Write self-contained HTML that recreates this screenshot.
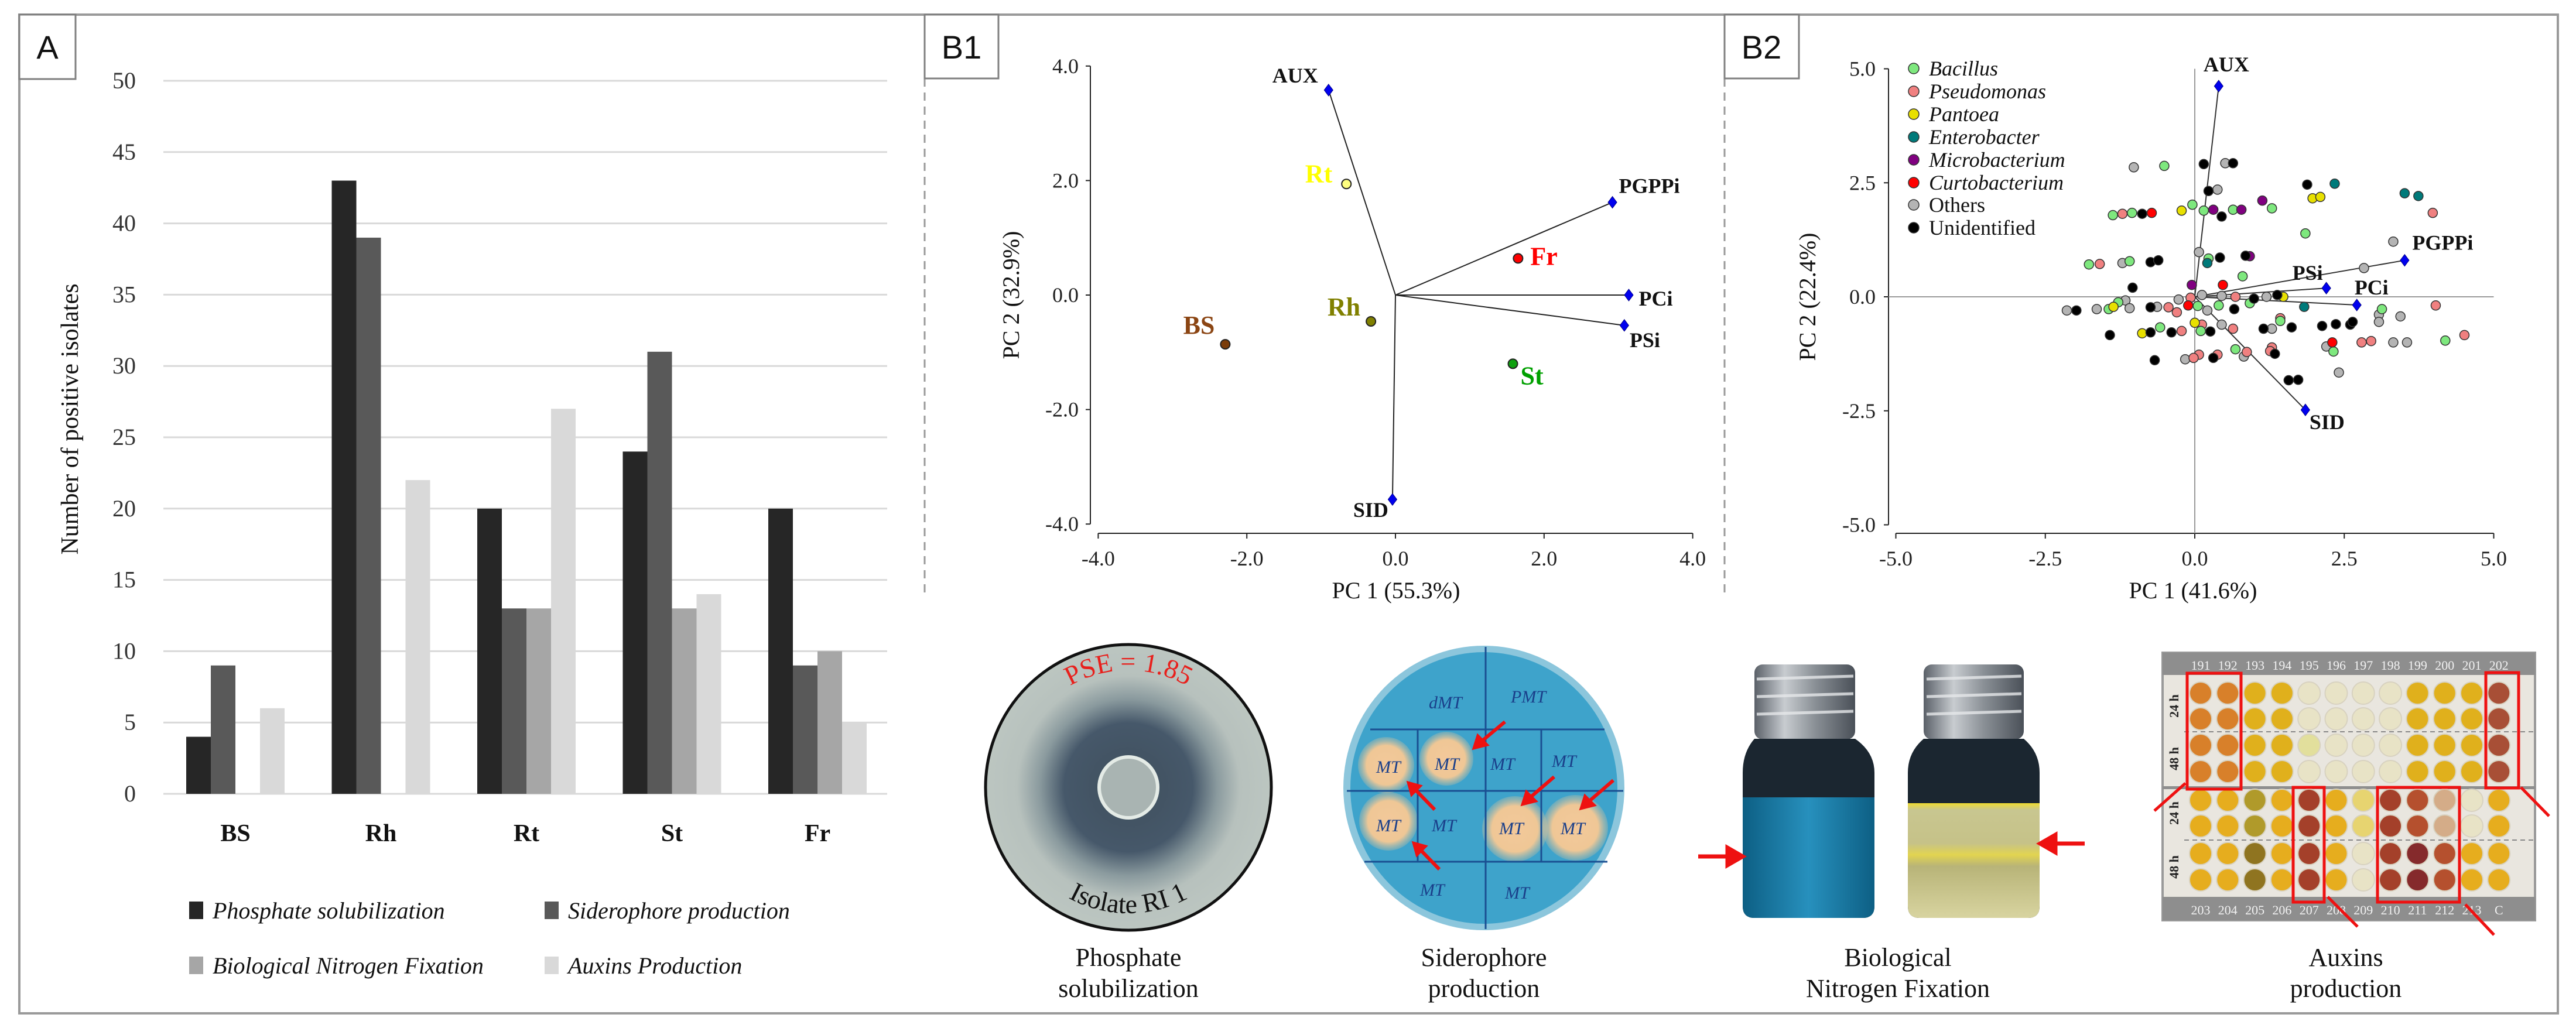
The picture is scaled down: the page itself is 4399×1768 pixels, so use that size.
<!DOCTYPE html>
<html><head><meta charset="utf-8"><style>
html,body{margin:0;padding:0;background:#fff;}
svg{display:block;}
text{font-family:"Liberation Serif",serif;}
.sans{font-family:"Liberation Sans",sans-serif;}
</style></head><body>
<svg id="fig" width="4399" height="1768" viewBox="0 0 4399 1768" xmlns="http://www.w3.org/2000/svg">
<defs>
<radialGradient id="psGrad" cx="0.5" cy="0.5" r="0.5">
<stop offset="0" stop-color="#3f4f5c"/><stop offset="0.45" stop-color="#46586a"/><stop offset="0.62" stop-color="#8a9a9e"/><stop offset="0.78" stop-color="#b7c1bd"/><stop offset="1" stop-color="#bcc6c1"/>
</radialGradient>
<radialGradient id="colGrad" cx="0.5" cy="0.5" r="0.5">
<stop offset="0" stop-color="#f3c89a"/><stop offset="0.7" stop-color="#efc796"/><stop offset="1" stop-color="#c9bfa0" stop-opacity="0.3"/>
</radialGradient>
<linearGradient id="blueLiq" x1="0" y1="0" x2="1" y2="0"><stop offset="0" stop-color="#0d5f84"/><stop offset="0.5" stop-color="#2790bd"/><stop offset="1" stop-color="#0d5f84"/></linearGradient>
<linearGradient id="yelLiq" x1="0" y1="0" x2="0" y2="1"><stop offset="0" stop-color="#f0dc30"/><stop offset="0.06" stop-color="#c8c690"/><stop offset="0.35" stop-color="#c6c288"/><stop offset="0.45" stop-color="#e2d450"/><stop offset="0.55" stop-color="#b8b478"/><stop offset="1" stop-color="#d8d4a0"/></linearGradient>
<linearGradient id="capGrad" x1="0" y1="0" x2="1" y2="0"><stop offset="0" stop-color="#5a6068"/><stop offset="0.3" stop-color="#c8ccd0"/><stop offset="0.6" stop-color="#8a9096"/><stop offset="1" stop-color="#4a5058"/></linearGradient>
<path id="arcTop" d="M 1727 1345 A 200 200 0 0 1 2127 1345"/>
<path id="arcBot" d="M 1712 1345 A 215 215 0 0 0 2142 1345"/>
</defs>

<!-- outer frame -->
<rect x="33" y="25" width="4335" height="1706" fill="none" stroke="#9a9a9a" stroke-width="4"/>
<line x1="1579" y1="134" x2="1579" y2="1020" stroke="#9a9a9a" stroke-width="3" stroke-dasharray="14,10"/>
<line x1="2945" y1="134" x2="2945" y2="1020" stroke="#9a9a9a" stroke-width="3" stroke-dasharray="14,10"/>

<!-- panel labels -->
<g><rect x="33" y="25" width="96" height="110" fill="#fff" stroke="#808080" stroke-width="3"/><text class="sans" x="81" y="100" font-size="56" text-anchor="middle" fill="#111">A</text></g>
<g><rect x="1579" y="25" width="126" height="109" fill="#fff" stroke="#808080" stroke-width="3"/><text class="sans" x="1642" y="100" font-size="56" text-anchor="middle" fill="#111">B1</text></g>
<g><rect x="2945" y="25" width="127" height="109" fill="#fff" stroke="#808080" stroke-width="3"/><text class="sans" x="3008" y="100" font-size="56" text-anchor="middle" fill="#111">B2</text></g>

<g id="barChart"></g>
<g id="pcaB1"></g>
<g id="pcaB2"></g>

<!-- Photo 1: phosphate -->
<g>
<circle cx="1927" cy="1345" r="244" fill="url(#psGrad)" stroke="#111" stroke-width="5"/>
<ellipse cx="1927" cy="1345" rx="50" ry="52" fill="#a9b4b2" stroke="#e4ebe6" stroke-width="6"/>
<text font-size="46" fill="#e8201c" text-anchor="middle"><textPath href="#arcTop" startOffset="50%">PSE = 1.85</textPath></text>
<text font-size="46" fill="#111" text-anchor="middle"><textPath href="#arcBot" startOffset="50%">Isolate RI 1</textPath></text>
</g>
<g><text x="1927" y="1650" font-size="44" text-anchor="middle" fill="#111">Phosphate</text><text x="1927" y="1703" font-size="44" text-anchor="middle" fill="#111">solubilization</text></g>

<!-- Photo 2: siderophore -->
<g>
<ellipse cx="2534" cy="1346" rx="240" ry="243" fill="#8cc6dc"/>
<ellipse cx="2534" cy="1346" rx="228" ry="232" fill="#3ea3cb"/>
<circle cx="2367" cy="1307" r="48" fill="url(#colGrad)"/>
<circle cx="2470" cy="1296" r="46" fill="url(#colGrad)"/>
<circle cx="2371" cy="1403" r="50" fill="url(#colGrad)"/>
<circle cx="2587" cy="1416" r="56" fill="url(#colGrad)"/>
<circle cx="2690" cy="1414" r="56" fill="url(#colGrad)"/>
<g stroke="#1a4f92" stroke-width="3" fill="none">
<line x1="2537" y1="1105" x2="2537" y2="1587"/>
<line x1="2421" y1="1246" x2="2421" y2="1472"/>
<line x1="2632" y1="1246" x2="2632" y2="1472"/>
<line x1="2340" y1="1246" x2="2740" y2="1246"/>
<line x1="2300" y1="1351" x2="2772" y2="1351"/>
<line x1="2330" y1="1472" x2="2745" y2="1472"/>
</g>
<g font-size="30" fill="#1a3f8a" font-style="italic"><text x="2440" y="1210">dMT</text><text x="2580" y="1200">PMT</text><text x="2350" y="1320">MT</text><text x="2450" y="1315">MT</text><text x="2545" y="1315">MT</text><text x="2650" y="1310">MT</text><text x="2350" y="1420">MT</text><text x="2445" y="1420">MT</text><text x="2560" y="1425">MT</text><text x="2665" y="1425">MT</text><text x="2425" y="1530">MT</text><text x="2570" y="1535">MT</text></g>
<g stroke="#ee1111" stroke-width="6" fill="#ee1111">
<line x1="2570" y1="1233" x2="2528" y2="1268"/><polygon points="2518,1277 2524,1258 2538,1272"/>
<line x1="2450" y1="1383" x2="2415" y2="1347"/><polygon points="2406,1338 2424,1343 2411,1356"/>
<line x1="2458" y1="1485" x2="2424" y2="1450"/><polygon points="2415,1441 2433,1446 2420,1459"/>
<line x1="2654" y1="1327" x2="2611" y2="1364"/><polygon points="2601,1373 2607,1354 2621,1368"/>
<line x1="2755" y1="1333" x2="2711" y2="1371"/><polygon points="2701,1380 2707,1361 2721,1375"/>
</g>
</g>
<g><text x="2534" y="1650" font-size="44" text-anchor="middle" fill="#111">Siderophore</text><text x="2534" y="1703" font-size="44" text-anchor="middle" fill="#111">production</text></g>

<!-- Photo 3: vials -->
<g>
<rect x="2996" y="1135" width="172" height="128" rx="14" fill="url(#capGrad)"/>
<g stroke="#e6e8ea" stroke-width="5" opacity="0.8"><line x1="3000" y1="1160" x2="3165" y2="1155"/><line x1="3000" y1="1190" x2="3165" y2="1185"/><line x1="3000" y1="1220" x2="3165" y2="1215"/></g>
<path d="M2996 1262 Q2976 1285 2976 1320 L2976 1548 Q2976 1568 2996 1568 L3181 1568 Q3201 1568 3201 1548 L3201 1320 Q3201 1285 3168 1262 Z" fill="#1b2630"/>
<path d="M2976 1362 L3201 1362 L3201 1548 Q3201 1568 3181 1568 L2996 1568 Q2976 1568 2976 1548 Z" fill="url(#blueLiq)"/>
<rect x="3285" y="1135" width="171" height="128" rx="14" fill="url(#capGrad)"/>
<g stroke="#e6e8ea" stroke-width="5" opacity="0.8"><line x1="3290" y1="1160" x2="3452" y2="1155"/><line x1="3290" y1="1190" x2="3452" y2="1185"/><line x1="3290" y1="1220" x2="3452" y2="1215"/></g>
<path d="M3285 1262 Q3258 1285 3258 1320 L3258 1548 Q3258 1568 3278 1568 L3463 1568 Q3483 1568 3483 1548 L3483 1320 Q3483 1285 3456 1262 Z" fill="#1b2630"/>
<path d="M3258 1372 L3483 1372 L3483 1548 Q3483 1568 3463 1568 L3278 1568 Q3258 1568 3258 1548 Z" fill="url(#yelLiq)"/>
<g stroke="#ee1111" stroke-width="7" fill="#ee1111">
<line x1="2900" y1="1463" x2="2955" y2="1463"/><polygon points="2976,1463 2950,1448 2950,1478"/>
<line x1="3560" y1="1441" x2="3505" y2="1441"/><polygon points="3484,1441 3510,1426 3510,1456"/>
</g>
</g>
<g><text x="3241" y="1650" font-size="44" text-anchor="middle" fill="#111">Biological</text><text x="3241" y="1703" font-size="44" text-anchor="middle" fill="#111">Nitrogen Fixation</text></g>

<!-- Photo 4: well plate -->
<g id="wellPlate">
<rect x="3693" y="1115" width="636" height="457" fill="#e9e6df" stroke="#9a9a9a" stroke-width="4"/>
<rect x="3693" y="1115" width="636" height="38" fill="#8e8e8e"/>
<rect x="3693" y="1532" width="636" height="40" fill="#8e8e8e"/>
<rect x="3693" y="1343" width="636" height="5" fill="#8e8e8e"/>
<line x1="3730" y1="1250" x2="4329" y2="1250" stroke="#888" stroke-width="2" stroke-dasharray="8,6"/>
<line x1="3730" y1="1435" x2="4329" y2="1435" stroke="#888" stroke-width="2" stroke-dasharray="8,6"/>
<g class="sans" font-size="22" font-weight="bold" fill="#222"><text transform="translate(3720,1206) rotate(-90)" text-anchor="middle">24 h</text><text transform="translate(3720,1296) rotate(-90)" text-anchor="middle">48 h</text><text transform="translate(3720,1389) rotate(-90)" text-anchor="middle">24 h</text><text transform="translate(3720,1481) rotate(-90)" text-anchor="middle">48 h</text></g>
</g>
<g><text x="4006" y="1650" font-size="44" text-anchor="middle" fill="#111">Auxins</text><text x="4006" y="1703" font-size="44" text-anchor="middle" fill="#111">production</text></g>
</svg>

<script>
var NS = "http://www.w3.org/2000/svg";
function mk(parent, tag, attrs, txt) {
  var e = document.createElementNS(NS, tag);
  for (var k in attrs) e.setAttribute(k, attrs[k]);
  if (txt !== undefined) e.textContent = txt;
  parent.appendChild(e);
  return e;
}

// ===== Panel A data =====
var sites = ["BS", "Rh", "Rt", "St", "Fr"];
var phosphateVals = [4, 43, 20, 24, 20];
var siderophoreVals = [9, 39, 13, 31, 9];
var nitrogenVals = [0, 0, 13, 13, 10];
var auxinsVals = [6, 22, 27, 14, 5];
var barTicks = [0, 5, 10, 15, 20, 25, 30, 35, 40, 45, 50];
var seriesNames = ["Phosphate solubilization", "Siderophore production", "Biological Nitrogen Fixation", "Auxins Production"];

// ===== B1 data =====
var b1VarNames = ["AUX", "PGPPi", "PCi", "PSi", "SID"];
var b1VarX = [-0.90, 2.92, 3.14, 3.08, -0.04];
var b1VarY = [3.58, 1.62, 0.00, -0.53, -3.57];
var b1SiteNames = ["Rt", "Fr", "Rh", "BS", "St"];
var b1SiteX = [-0.66, 1.65, -0.33, -2.29, 1.58];
var b1SiteY = [1.94, 0.64, -0.46, -0.86, -1.20];
var b1Ticks = [-4, -2, 0, 2, 4];

// ===== B2 data =====
var b2VarNames = ["AUX", "PGPPi", "PSi", "PCi", "SID"];
var b2VarX = [0.40, 3.51, 2.20, 2.71, 1.85];
var b2VarY = [4.62, 0.80, 0.19, -0.18, -2.48];
var b2Ticks = [-5, -2.5, 0, 2.5, 5];
var genera = ["Bacillus", "Pseudomonas", "Pantoea", "Enterobacter", "Microbacterium", "Curtobacterium", "Others", "Unidentified"];
var bacillusX = [-0.51,-0.04,0.15,0.64,1.29,1.85,-1.37,-1.05,-1.77,-1.09,0.23,0.80,-1.28,-1.44,-0.58,0.10,0.40,0.92,1.43,0.68,3.13,2.32,4.19,0.05];
var bacillusY = [2.87,2.02,1.89,1.91,1.94,1.39,1.79,1.84,0.71,0.78,0.84,0.45,-0.12,-0.27,-0.67,-0.75,-0.19,-0.14,-0.53,-1.15,-0.27,-1.20,-0.96,-0.20];
var pseudomonasX = [-1.21,-1.59,3.98,4.03,4.51,2.79,2.95,-0.22,-0.44,-0.30,-0.07,0.68,0.64,1.29,1.26,0.87,0.38,0.07,-0.02,1.43,0.12];
var pseudomonasY = [1.82,0.72,1.84,-0.19,-0.84,-1.00,-0.97,-0.75,-0.23,-0.34,-0.02,0.00,-0.70,-1.11,-1.19,-1.21,-1.27,-1.27,-1.34,-0.47,-0.61];
var pantoeaX = [-0.22,1.97,2.10,-1.36,-0.88,0.00,1.48];
var pantoeaY = [1.89,2.16,2.19,-0.22,-0.80,-0.57,0.00];
var enterobacterX = [2.34,3.51,3.74,1.83,0.21];
var enterobacterY = [2.48,2.27,2.21,-0.22,0.74];
var microbacteriumX = [0.31,0.78,1.13,0.92,-0.05];
var microbacteriumY = [1.91,1.91,2.11,0.89,0.26];
var curtobacteriumX = [-0.72,0.47,-0.11,2.30];
var curtobacteriumY = [1.84,0.26,-0.19,-1.00];
var othersX = [-1.02,0.51,0.38,3.32,2.83,0.07,-1.21,-2.14,-1.64,-1.16,-1.09,-0.63,-0.27,0.21,0.12,0.45,1.20,1.29,3.08,3.08,3.44,3.32,3.55,2.20,2.41,-0.16,0.82,0.45];
var othersY = [2.84,2.93,2.35,1.21,0.63,0.98,0.74,-0.30,-0.27,-0.08,-0.25,-0.22,-0.06,-0.30,0.04,-0.61,0.00,-0.70,-0.39,-0.55,-0.43,-1.00,-1.00,-1.09,-1.66,-1.37,-1.31,0.02];
var unidentifiedX = [0.15,0.64,0.23,0.45,-0.88,-0.74,-0.61,0.42,0.85,-1.04,-1.98,-1.42,-0.74,-0.74,-0.39,0.26,0.66,0.99,1.38,1.15,1.62,1.34,2.13,2.36,2.60,2.64,1.57,1.73,0.31,-0.67,1.88];
var unidentifiedY = [2.91,2.93,2.32,1.76,1.82,0.76,0.80,0.86,0.90,0.20,-0.30,-0.84,-0.23,-0.78,-0.78,-0.76,-0.27,-0.04,0.04,-0.70,-0.67,-1.25,-0.64,-0.60,-0.61,-0.55,-1.83,-1.82,-1.34,-1.39,2.46];

// ===== Panel A drawing =====
(function(){
  var g = document.getElementById("barChart");
  var y0 = 1356, pxPerUnit = 24.36, gx0 = 279, gx1 = 1515;
  function yS(v){ return y0 - v * pxPerUnit; }
  function groupX(i){ return 402 + i * 248.5; }
  var colors = ["#262626", "#595959", "#a6a6a6", "#d9d9d9"];
  var vals = [phosphateVals, siderophoreVals, nitrogenVals, auxinsVals];
  var bw = 42;
  barTicks.forEach(function(t){
    var ln = mk(g, "line", {x1: gx0, x2: gx1, y1: yS(t), y2: yS(t), stroke: "#d9d9d9", "stroke-width": 3});
    
    
    var tx = mk(g, "text", {x: 232, y: yS(t) + 13, "font-size": 40, "text-anchor": "end", fill: "#333"}, String(t));
    
    
  });
  sites.forEach(function(s, i){
    for (var j = 0; j < 4; j++) {
      var v = vals[j][i];
      var r = mk(g, "rect", {x: groupX(i) - 2 * bw + j * bw, y: yS(v), width: bw, height: v * pxPerUnit, fill: colors[j]});
      
      
    }
    var lb = mk(g, "text", {x: groupX(i), y: 1437, "font-size": 42, "font-weight": "bold", "text-anchor": "middle", fill: "#111"}, s);
    
    
  });
  var yt = mk(g, "text", {transform: "translate(133,716) rotate(-90)", "font-size": 42, "text-anchor": "middle", fill: "#111"}, "Number of positive isolates");
  
  
  var lx = [323, 930], ly = [1556, 1650];
  seriesNames.forEach(function(n, j){
    var cx = lx[j % 2], cy = ly[Math.floor(j / 2)];
    var le = mk(g, "g", {});
    
    
    mk(le, "rect", {x: cx, y: cy - 16, width: 24, height: 30, fill: colors[j]});
    mk(le, "text", {x: cx + 40, y: cy + 13, "font-size": 40, "font-style": "italic", fill: "#111"}, n);
  });
})();

function diamond(g, x, y, s) {
  return mk(g, "polygon", {points: (x)+","+(y-s)+" "+(x+s*0.75)+","+y+" "+x+","+(y+s)+" "+(x-s*0.75)+","+y, fill: "#0000ee", stroke: "#00008b", "stroke-width": 1});
}

// ===== B1 drawing =====
(function(){
  var g = document.getElementById("pcaB1");
  var ox = 2383, oy = 504, sx = 126.9, sy = 97.8;
  function X(v){ return ox + v * sx; }
  function Y(v){ return oy - v * sy; }
  mk(g, "line", {x1: 1862, x2: 1862, y1: Y(4), y2: Y(-4), stroke: "#222", "stroke-width": 2});
  mk(g, "line", {x1: X(-4), x2: X(4), y1: 911, y2: 911, stroke: "#222", "stroke-width": 2});
  b1Ticks.forEach(function(t){
    mk(g, "line", {x1: 1854, x2: 1862, y1: Y(t), y2: Y(t), stroke: "#222", "stroke-width": 2});
    var a = mk(g, "text", {x: 1842, y: Y(t) + 12, "font-size": 36, "text-anchor": "end", fill: "#222"}, t.toFixed(1));
    
    
    mk(g, "line", {x1: X(t), x2: X(t), y1: 911, y2: 920, stroke: "#222", "stroke-width": 2});
    var b = mk(g, "text", {x: X(t), y: 966, "font-size": 36, "text-anchor": "middle", fill: "#222"}, t.toFixed(1));
    
    
  });
  var xt = mk(g, "text", {x: 2384, y: 1022, "font-size": 40, "text-anchor": "middle", fill: "#111"}, "PC 1 (55.3%)");
  
  
  var ytt = mk(g, "text", {transform: "translate(1740,504) rotate(-90)", "font-size": 40, "text-anchor": "middle", fill: "#111"}, "PC 2 (32.9%)");
  
  
  var varLab = {AUX:[-18,-13,"end"], PGPPi:[11,-16,"start"], PCi:[17,18,"start"], PSi:[9,37,"start"], SID:[-7,30,"end"]};
  b1VarNames.forEach(function(n, i){
    var l = mk(g, "line", {x1: ox, y1: oy, x2: X(b1VarX[i]), y2: Y(b1VarY[i]), stroke: "#222", "stroke-width": 2});
    
    
    var d = diamond(g, X(b1VarX[i]), Y(b1VarY[i]), 10);
    
    
    var o = varLab[n];
    var t = mk(g, "text", {x: X(b1VarX[i]) + o[0], y: Y(b1VarY[i]) + o[1], "font-size": 36, "font-weight": "bold", "text-anchor": o[2], fill: "#111"}, n);
    
    
  });
  var siteStyle = {Rt:["#ffff00","#ffff80",-24,-3,"end"], Fr:["#ff0000","#ff0000",21,11,"start"], Rh:["#808000","#808000",-18,-10,"end"], BS:["#8b4513","#7a3c0a",-18,-18,"end"], St:["#00a000","#10a010",13,35,"start"]};
  b1SiteNames.forEach(function(n, i){
    var s = siteStyle[n];
    var c = mk(g, "circle", {cx: X(b1SiteX[i]), cy: Y(b1SiteY[i]), r: 8, fill: s[1], stroke: "#222", "stroke-width": 2});
    
    
    var t = mk(g, "text", {x: X(b1SiteX[i]) + s[2], y: Y(b1SiteY[i]) + s[3], "font-size": 44, "font-weight": "bold", "text-anchor": s[4], fill: s[0]}, n);
    
    
  });
})();

// ===== B2 drawing =====
(function(){
  var g = document.getElementById("pcaB2");
  var ox = 3748, oy = 507, sx = 102.1, sy = 77.9;
  function X(v){ return ox + v * sx; }
  function Y(v){ return oy - v * sy; }
  mk(g, "line", {x1: 3225, x2: 3225, y1: Y(5), y2: Y(-5), stroke: "#222", "stroke-width": 2});
  mk(g, "line", {x1: X(-5), x2: X(5), y1: 911, y2: 911, stroke: "#222", "stroke-width": 2});
  mk(g, "line", {x1: X(0), x2: X(0), y1: Y(5), y2: 911, stroke: "#999", "stroke-width": 2});
  mk(g, "line", {x1: 3225, x2: X(5), y1: Y(0), y2: Y(0), stroke: "#999", "stroke-width": 2});
  b2Ticks.forEach(function(t){
    mk(g, "line", {x1: 3217, x2: 3225, y1: Y(t), y2: Y(t), stroke: "#222", "stroke-width": 2});
    var a = mk(g, "text", {x: 3203, y: Y(t) + 12, "font-size": 36, "text-anchor": "end", fill: "#222"}, t.toFixed(1));
    
    
    mk(g, "line", {x1: X(t), x2: X(t), y1: 911, y2: 920, stroke: "#222", "stroke-width": 2});
    var b = mk(g, "text", {x: X(t), y: 966, "font-size": 36, "text-anchor": "middle", fill: "#222"}, t.toFixed(1));
    
    
  });
  var xt = mk(g, "text", {x: 3745, y: 1022, "font-size": 40, "text-anchor": "middle", fill: "#111"}, "PC 1 (41.6%)");
  
  
  var ytt = mk(g, "text", {transform: "translate(3100,507) rotate(-90)", "font-size": 40, "text-anchor": "middle", fill: "#111"}, "PC 2 (22.4%)");
  
  
  // vector lines
  b2VarNames.forEach(function(n, i){
    var l = mk(g, "line", {x1: ox, y1: oy, x2: X(b2VarX[i]), y2: Y(b2VarY[i]), stroke: "#333", "stroke-width": 2});
    
    
  });
  var gColors = ["#7ee87e", "#f08080", "#e8e000", "#007a7a", "#800080", "#ff0000", "#b4b4b4", "#000000"];
  var gx = [bacillusX, pseudomonasX, pantoeaX, enterobacterX, microbacteriumX, curtobacteriumX, othersX, unidentifiedX];
  var gy = [bacillusY, pseudomonasY, pantoeaY, enterobacterY, microbacteriumY, curtobacteriumY, othersY, unidentifiedY];
  [6, 1, 0, 2, 3, 4, 5, 7].forEach(function(k){
    for (var i = 0; i < gx[k].length; i++) {
      var c = mk(g, "circle", {cx: X(gx[k][i]), cy: Y(gy[k][i]), r: 8, fill: gColors[k], stroke: "#333", "stroke-width": 1.5});
      
      
    }
  });
  var varLab = {AUX:[-26,-25,"start"], PGPPi:[13,-18,"start"], PSi:[-6,-14,"end"], PCi:[-4,-18,"start"], SID:[7,33,"start"]};
  b2VarNames.forEach(function(n, i){
    var d = diamond(g, X(b2VarX[i]), Y(b2VarY[i]), 10);
    
    
    var o = varLab[n];
    var t = mk(g, "text", {x: X(b2VarX[i]) + o[0], y: Y(b2VarY[i]) + o[1], "font-size": 36, "font-weight": "bold", "text-anchor": o[2], fill: "#111"}, n);
    
    
  });
  var legY = [117, 156, 195, 234, 273, 312, 350, 389];
  genera.forEach(function(n, k){
    var le = mk(g, "g", {});
    
    
    mk(le, "circle", {cx: 3268, cy: legY[k], r: 9, fill: gColors[k], stroke: "#333", "stroke-width": 1.5});
    mk(le, "text", {x: 3294, y: legY[k] + 12, "font-size": 36, "font-style": k < 6 ? "italic" : "normal", fill: "#111"}, n);
  });
})();

// ===== well plate wells (photo decoration) =====
(function(){
  var g = document.getElementById("wellPlate");
  var O="#d8802a", Y="#e0b01c", P="#e8e3c6", B="#a84f36", G="#e6ad1e", L="#b09a2a", D="#8f7420", R="#a4402a", Q="#e7d470", M="#852a2c", S="#d4ac88", T="#b5502e";
  var grid = [
    [O,O,Y,Y,P,P,P,P,Y,Y,Y,B],
    [O,O,Y,Y,P,P,P,P,Y,Y,Y,B],
    [O,O,Y,Y,"#e2df9c",P,P,P,Y,Y,Y,B],
    [O,O,Y,Y,P,P,P,P,Y,Y,Y,B],
    [G,G,L,G,R,G,Q,R,T,S,P,G],
    [G,G,L,G,R,G,Q,R,T,S,P,G],
    [G,G,D,G,R,G,P,R,M,T,G,G],
    [G,G,D,G,R,G,P,R,M,T,G,G]];
  var rowY = [1184,1228,1273,1318,1367,1411,1458,1503];
  var labTop = ["191","192","193","194","195","196","197","198","199","200","201","202"];
  var labBot = ["203","204","205","206","207","208","209","210","211","212","213","C"];
  for (var c = 0; c < 12; c++) {
    var x = 3758 + c * 46.3;
    mk(g, "text", {x: x, y: 1144, "font-size": 22, "text-anchor": "middle", fill: "#f2f2f2"}, labTop[c]);
    mk(g, "text", {x: x, y: 1562, "font-size": 22, "text-anchor": "middle", fill: "#f2f2f2"}, labBot[c]);
    for (var r = 0; r < 8; r++) {
      mk(g, "circle", {cx: x, cy: rowY[r], r: 19, fill: grid[r][c], stroke: "#d8d2c0", "stroke-width": 2});
    }
  }
  var boxes = [[3735,1150,92,198],[4245,1149,56,197],[3916,1345,53,196],[4060,1345,140,196]];
  boxes.forEach(function(b){ mk(g, "rect", {x: b[0], y: b[1], width: b[2], height: b[3], fill: "none", stroke: "#ee1111", "stroke-width": 5}); });
  var arrows = [[3679,1385,3732,1338],[4353,1394,4305,1345],[4026,1583,3975,1532],[4259,1597,4210,1545]];
  arrows.forEach(function(a){
    mk(g, "line", {x1: a[0], y1: a[1], x2: a[2], y2: a[3], stroke: "#ee1111", "stroke-width": 5});
  });
})();
</script>
</body></html>
